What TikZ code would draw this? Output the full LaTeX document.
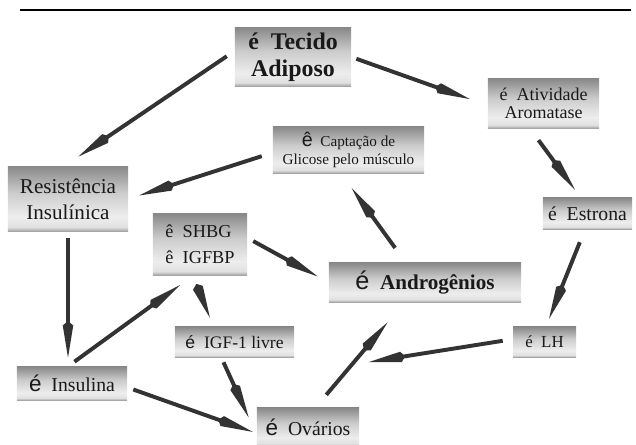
\documentclass[tikz,border=0pt]{standalone}
\usepackage{fontspec}
\setmainfont{Liberation Serif}
\newfontfamily\symsans{Liberation Sans}
\usetikzlibrary{arrows.meta}
\pgfdeclareverticalshading{boxgrad}{100bp}{color(0bp)=(black!35); color(25bp)=(black!35); color(28bp)=(black!12); color(36bp)=(black!7); color(55bp)=(black!20); color(75bp)=(black!46); color(100bp)=(black!46)}

\begin{document}
\begin{tikzpicture}[
  x=0.025cm, y=-0.025cm,
  box/.style={shading=boxgrad, inner sep=1pt, align=center, text=black!90},
  arr/.style={-{Kite[length=26pt,width=7.5pt,inset=3pt]}, line width=2.8pt, color=black!80},
]
\useasboundingbox (0,0) rectangle (636,445);
\draw[line width=1.8pt] (20,10) -- (631,10);

\node[box, minimum width=2.9cm, minimum height=1.45cm, font=\fontsize{17}{19.5}\selectfont\bfseries] (tecido) at (293,57) {é\enspace Tecido\\Adiposo};
\node[box, minimum width=2.775cm, minimum height=1.225cm, font=\fontsize{12.8}{13}\selectfont] (atividade) at (543.5,103.5) {é~ Atividade\\Aromatase};
\node[box, minimum width=3.775cm, minimum height=1.15cm, font=\fontsize{10.8}{13}\selectfont] (captacao) at (348.5,150) {{\symsans\fontsize{14}{13}\selectfont ê}~ Captação de\\Glicose pelo músculo};
\node[box, minimum width=3cm, minimum height=1.6cm, font=\fontsize{15}{18.5}\selectfont] (resist) at (68,199) {Resistência\\Insulínica};
\node[box, minimum width=2.35cm, minimum height=1.525cm, font=\fontsize{13}{18.4}\selectfont, align=left] (shbg) at (200,244.5) {ê~ SHBG\\ê~ IGFBP};
\node[box, minimum width=4.8cm, minimum height=0.975cm, font=\fontsize{15}{15}\selectfont\bfseries] (andro) at (425,282.5) {{\symsans\mdseries\fontsize{18}{17}\selectfont é}~ Androgênios};
\node[box, minimum width=2.225cm, minimum height=0.775cm, font=\fontsize{14}{14}\selectfont] (estrona) at (587.5,213.5) {é~ Estrona};
\node[box, minimum width=1.575cm, minimum height=0.75cm, font=\fontsize{12}{12}\selectfont] (lh) at (544.5,342) {é~ LH};
\node[box, minimum width=2.975cm, minimum height=0.75cm, font=\fontsize{12.5}{12.5}\selectfont] (igf) at (234.5,342) {{\symsans é}~ IGF-1 livre};
\node[box, minimum width=2.75cm, minimum height=0.825cm, font=\fontsize{14}{14}\selectfont] (insulina) at (72,383.5) {{\symsans\fontsize{16}{15}\selectfont é}~ Insulina};
\node[box, minimum width=2.55cm, minimum height=0.95cm, font=\fontsize{14}{14}\selectfont] (ovarios) at (308,427) {{\symsans\fontsize{16}{15}\selectfont é}~ Ovários};
\coordinate (lhend) at (369,362);

\draw[arr, shorten <=6.8pt, shorten >=12.8pt] (tecido.174.7) -- (resist.98.9);
\draw[arr, shorten <=3.8pt, shorten >=13.5pt] (tecido.east) -- (atividade.182);
\draw[arr, shorten <=10.5pt, shorten >=7pt] (atividade.241.9) -- (estrona.113.4);
\draw[arr, shorten <=8.2pt, shorten >=8.2pt] (captacao.182.7) -- (resist.east);
\draw[arr, shorten <=13pt, shorten >=13pt] (andro.134.6) -- (captacao.252.5);
\draw[arr, shorten <=5pt, shorten >=6.4pt] (resist.south) -- (resist.south |- insulina.north);
\draw[arr, shorten <=4.8pt, shorten >=8.9pt] (shbg.8.1) -- (andro.west);
\draw[arr, shorten <=6.1pt, shorten >=12pt] (insulina.105.6) -- (shbg.258.3);
\draw[arr, shorten <=9.1pt, shorten >=6.8pt] (shbg.257.8) -- (igf.144.5);
\draw[arr, shorten <=3.9pt, shorten >=13.9pt] (igf.229.7) -- (ovarios.189.9);
\draw[arr, shorten <=4.5pt, shorten >=3pt] (insulina.356.5) -- (ovarios.187.2);
\draw[arr, shorten <=12pt, shorten >=18.6pt] (ovarios.69.8) -- (andro.224.3);
\draw[arr, shorten <=9.9pt, shorten >=6.1pt] (estrona.261.6) -- (lh.85);
\draw[arr, shorten <=7.2pt] (lh.175.3) -- (lhend);
\end{tikzpicture}
\end{document}
